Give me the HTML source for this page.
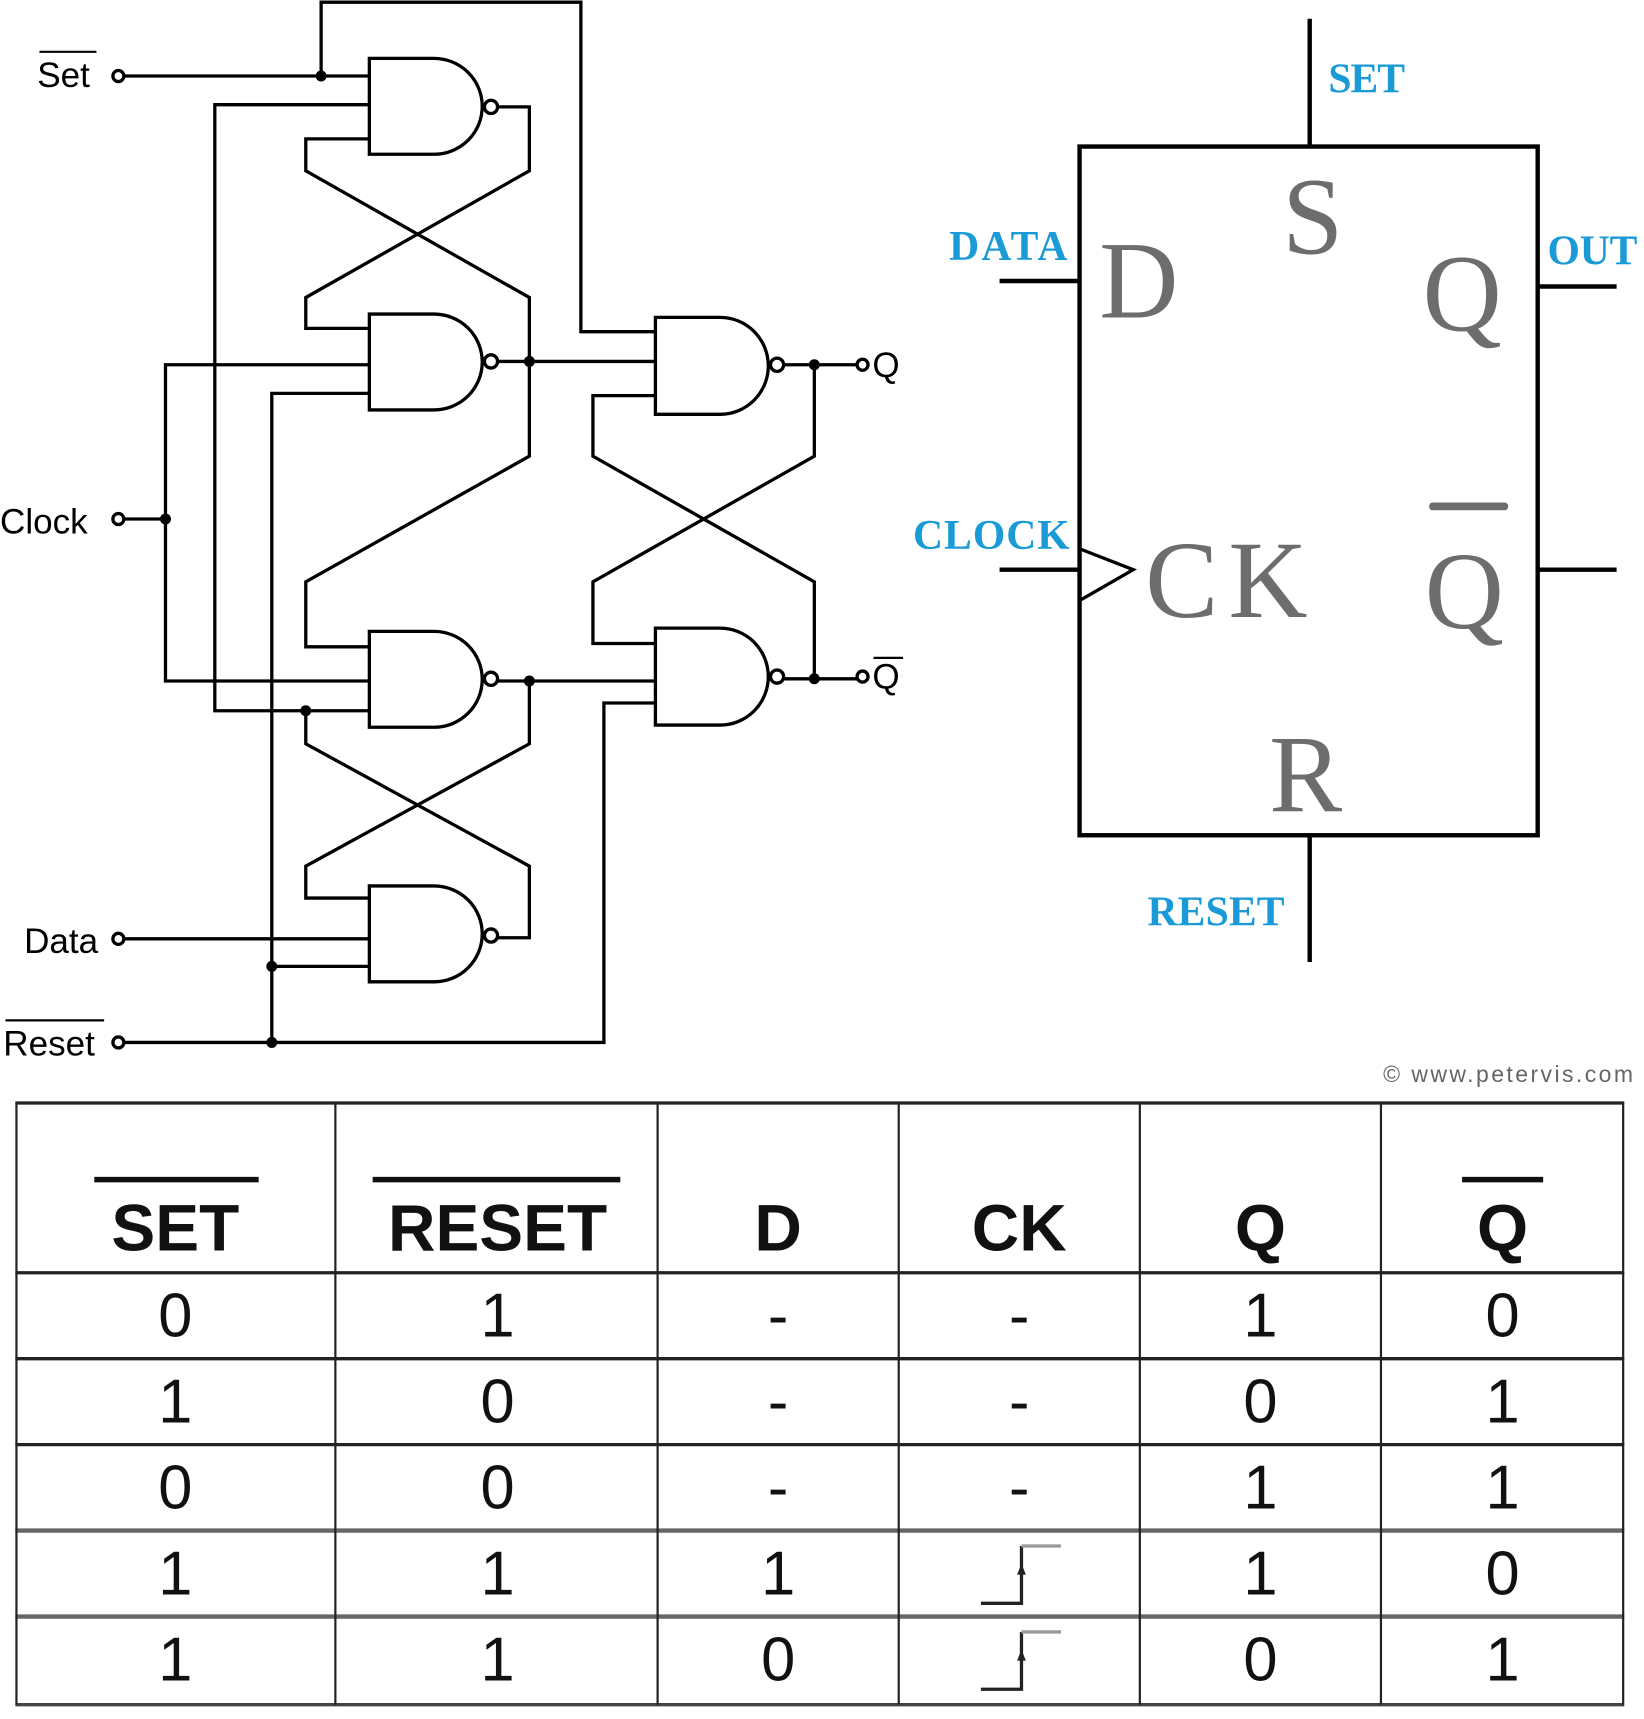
<!DOCTYPE html>
<html><head><meta charset="utf-8"><style>
html,body{margin:0;padding:0;background:#fff;}
svg{display:block;}
</style></head><body>
<svg width="1644" height="1719" viewBox="0 0 1500 1560" preserveAspectRatio="none" xmlns="http://www.w3.org/2000/svg">
<g fill="none" stroke="#000" stroke-width="3">
<path d="M337,53 H396 A44,43.5 0 0 1 396,140 H337 Z"/>
<path d="M337,285 H396 A44,43.5 0 0 1 396,372 H337 Z"/>
<path d="M337,573 H396 A44,43.5 0 0 1 396,660 H337 Z"/>
<path d="M337,804 H396 A44,43.5 0 0 1 396,891 H337 Z"/>
<path d="M598,288 H657 A44,44 0 0 1 657,376 H598 Z"/>
<path d="M598,570 H657 A44,44 0 0 1 657,658 H598 Z"/>
<circle cx="448" cy="97" r="6"/><circle cx="448" cy="328" r="6"/>
<circle cx="448" cy="616" r="6"/><circle cx="448" cy="849" r="6"/>
<circle cx="709" cy="331" r="6"/><circle cx="709" cy="614" r="6"/>
<circle cx="108" cy="69" r="5"/><circle cx="108" cy="471" r="5"/>
<circle cx="108" cy="852" r="5"/><circle cx="108" cy="946" r="5"/>
<circle cx="787" cy="331" r="5"/><circle cx="787" cy="614" r="5"/>
<polyline points="113,69 337,69"/>
<polyline points="293,69 293,2 530,2 530,301 598,301"/>
<polyline points="337,95 196,95 196,645 337,645"/>
<polyline points="337,126 279,126 279,155 483,270 483,414 279,528 279,587 337,587"/>
<polyline points="454,97 483,97 483,155 279,270 279,298 337,298"/>
<polyline points="113,471 151,471"/>
<polyline points="337,331 151,331 151,618 337,618"/>
<polyline points="337,357 248,357 248,946"/>
<polyline points="454,328 598,328"/>
<polyline points="454,618 598,618"/>
<polyline points="279,645 279,675 483,786 483,851 454,851"/>
<polyline points="483,618 483,675 279,786 279,815 337,815"/>
<polyline points="113,852 337,852"/>
<polyline points="248,877 337,877"/>
<polyline points="113,946 551,946 551,638 598,638"/>
<polyline points="598,359 541,359 541,414 743,528 743,616"/>
<polyline points="743,331 743,414 541,528 541,584 598,584"/>
<polyline points="715,331 782,331"/>
<polyline points="715,616 782,616"/>
</g>
<g fill="#000">
<circle cx="293" cy="69" r="5"/><circle cx="151" cy="471" r="5"/>
<circle cx="483" cy="328" r="5"/><circle cx="483" cy="618" r="5"/>
<circle cx="279" cy="645" r="5"/><circle cx="248" cy="877" r="5"/>
<circle cx="248" cy="946" r="5"/><circle cx="743" cy="331" r="5"/>
<circle cx="743" cy="616" r="5"/>
</g>
<g font-family="Liberation Sans, sans-serif" font-size="32" fill="#000">
<text x="34" y="79">Set</text><line x1="36" y1="47" x2="88" y2="47" stroke="#000" stroke-width="2"/>
<text x="0" y="484">Clock</text>
<text x="22" y="865">Data</text>
<text x="3" y="958">Reset</text><line x1="5" y1="926" x2="95" y2="926" stroke="#000" stroke-width="2"/>
<text x="796" y="342">Q</text>
<text x="796" y="625">Q</text><line x1="797" y1="597" x2="824" y2="597" stroke="#000" stroke-width="2"/>
</g>
<g stroke="#000" stroke-width="4" fill="none">
<rect x="985" y="133" width="418" height="625"/>
<line x1="1195" y1="17" x2="1195" y2="133"/>
<line x1="1195" y1="758" x2="1195" y2="873"/>
<line x1="912" y1="255" x2="985" y2="255"/>
<line x1="912" y1="517" x2="985" y2="517"/>
<line x1="1403" y1="260" x2="1475" y2="260"/>
<line x1="1403" y1="517" x2="1475" y2="517"/>
<polyline points="985,498 1034,517 985,545" stroke-width="3"/>
</g>
<g font-family="Liberation Serif, serif" font-weight="bold" font-size="38" fill="#1a9ad6">
<text x="1212" y="84" textLength="70">SET</text>
<text x="866" y="236" textLength="108">DATA</text>
<text x="1412" y="240" textLength="82">OUT</text>
<text x="833" y="498" textLength="143">CLOCK</text>
<text x="1047" y="840" textLength="125">RESET</text>
</g>
<g font-family="Liberation Serif, serif" font-size="100" fill="#6d6d6d">
<text x="1003" y="288">D</text>
<text x="1170" y="230">S</text>
<text x="1298" y="300">Q</text>
<text x="1045" y="560" textLength="148">CK</text>
<text x="1300" y="570">Q</text>
<text x="1158" y="736">R</text>
</g>
<rect x="1304" y="456" width="72" height="7" rx="3" fill="#6d6d6d"/>
<text x="1262" y="982" font-family="Liberation Sans, sans-serif" font-size="21" fill="#666" textLength="228">© www.petervis.com</text>
<g transform="translate(0,-5)">
<g stroke="#222">
<g stroke-width="3">
<line x1="14" y1="1006" x2="1482" y2="1006"/>
<line x1="14" y1="1160" x2="1482" y2="1160"/>
<line x1="14" y1="1238" x2="1482" y2="1238"/>
<line x1="14" y1="1316" x2="1482" y2="1316"/>
<line x1="14" y1="1394" x2="1482" y2="1394" stroke="#666" stroke-width="4"/>
<line x1="14" y1="1472" x2="1482" y2="1472" stroke="#666" stroke-width="4"/>
<line x1="14" y1="1552" x2="1482" y2="1552" stroke="#444"/>
</g>
<g stroke-width="2">
<line x1="15" y1="1006" x2="15" y2="1552"/>
<line x1="306" y1="1006" x2="306" y2="1552"/>
<line x1="600" y1="1006" x2="600" y2="1552"/>
<line x1="820" y1="1006" x2="820" y2="1552"/>
<line x1="1040" y1="1006" x2="1040" y2="1552"/>
<line x1="1260" y1="1006" x2="1260" y2="1552"/>
<line x1="1481" y1="1006" x2="1481" y2="1552"/>
</g>
</g>
<g font-family="Liberation Sans, sans-serif" font-weight="bold" font-size="60" fill="#111" text-anchor="middle">
<text x="160" y="1140">SET</text>
<text x="454" y="1140">RESET</text>
<text x="710" y="1140">D</text>
<text x="930" y="1140">CK</text>
<text x="1150" y="1140">Q</text>
<text x="1371" y="1140">Q</text>
</g>
<g fill="#111">
<rect x="86" y="1073" width="150" height="5"/>
<rect x="340" y="1073" width="226" height="5"/>
<rect x="1334" y="1073" width="74" height="5"/>
</g>
<g font-family="Liberation Sans, sans-serif" font-size="56" fill="#111" text-anchor="middle">
<text x="160" y="1218">0</text><text x="454" y="1218">1</text><text x="710" y="1218">-</text><text x="930" y="1218">-</text><text x="1150" y="1218">1</text><text x="1371" y="1218">0</text>
<text x="160" y="1296">1</text><text x="454" y="1296">0</text><text x="710" y="1296">-</text><text x="930" y="1296">-</text><text x="1150" y="1296">0</text><text x="1371" y="1296">1</text>
<text x="160" y="1374">0</text><text x="454" y="1374">0</text><text x="710" y="1374">-</text><text x="930" y="1374">-</text><text x="1150" y="1374">1</text><text x="1371" y="1374">1</text>
<text x="160" y="1452">1</text><text x="454" y="1452">1</text><text x="710" y="1452">1</text><text x="1150" y="1452">1</text><text x="1371" y="1452">0</text>
<text x="160" y="1530">1</text><text x="454" y="1530">1</text><text x="710" y="1530">0</text><text x="1150" y="1530">0</text><text x="1371" y="1530">1</text>
</g>
<g fill="none" stroke-width="3">
<polyline points="895,1460 932,1460 932,1408" stroke="#222"/>
<line x1="932" y1="1408" x2="968" y2="1408" stroke="#999"/>
<polyline points="895,1538 932,1538 932,1486" stroke="#222"/>
<line x1="932" y1="1486" x2="968" y2="1486" stroke="#999"/>
</g>
<path d="M932,1424 l-4,10 h8 z M932,1502 l-4,10 h8 z" fill="#222"/>
</g>
</svg>
</body></html>
